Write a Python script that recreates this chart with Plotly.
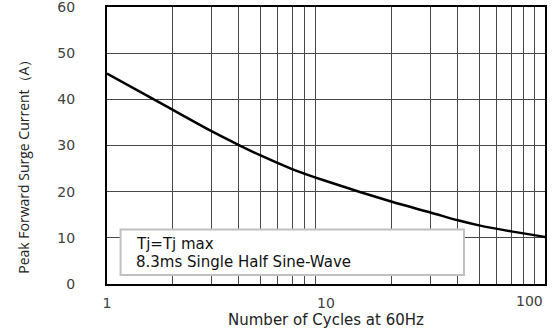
import plotly.graph_objects as go

cycles = [1, 2, 3, 4, 5, 7, 10, 20, 30, 40, 50, 70, 100]
current = [45.6, 37.7, 33.1, 30.1, 27.9, 24.9, 22.3, 17.8, 15.5, 13.8, 12.7, 11.4, 10.2]

x_ticks = [1, 10, 100]
x_labels = ["1", "10", ""]
x_end_label = "100"
x_minor = [2, 3, 4, 5, 6, 7, 8, 9, 20, 30, 40, 50, 60, 70, 80, 90]
y_ticks = [0, 10, 20, 30, 40, 50, 60]

note_lines = ["Tj=Tj max", "8.3ms Single Half Sine-Wave"]
x_title = "Number of Cycles at 60Hz"
y_title = "Peak Forward Surge Current\uff08A\uff09"

fig = go.Figure()
fig.add_trace(go.Scatter(x=cycles, y=current, mode="lines",
                         line=dict(color="black", width=2.5, shape="spline", smoothing=1.0),
                         showlegend=False, hoverinfo="skip"))

tick_font = dict(family="DejaVu Sans", size=14, color="#404040")
grid = "#484848"

fig.update_xaxes(type="log", range=[0, 2], tickvals=x_ticks, ticktext=x_labels,
                 showgrid=False, tickfont=tick_font, ticks="outside", ticklen=5, tickcolor="rgba(0,0,0,0)",
                 minor=dict(tickvals=x_minor, showgrid=True, gridcolor=grid, gridwidth=1, ticks=""),
                 showline=True, linecolor="black", linewidth=2, mirror=True, zeroline=False,
                 automargin=False, ticklabeloverflow="allow",
                 title=dict(text=x_title, font=dict(family="DejaVu Sans", size=15, color="#222222"), standoff=0))
fig.update_yaxes(range=[0, 60], tickvals=y_ticks, showgrid=True, gridcolor=grid, gridwidth=1,
                 tickfont=tick_font, ticks="outside", ticklen=27, tickcolor="rgba(0,0,0,0)",
                 showline=True, linecolor="black", linewidth=2, mirror=True, zeroline=False,
                 automargin=False, ticklabeloverflow="allow")

# y-axis title placed as in the reference (offset below centre)
fig.add_annotation(xref="paper", yref="paper", x=-0.19, y=0.437, xanchor="center", yanchor="middle",
                   text=y_title, textangle=-90, showarrow=False,
                   font=dict(family="Open Sans", size=14, color="#222222"))
# last x tick label sits flush with the right edge
fig.add_annotation(xref="paper", yref="paper", x=1.0, y=-0.061, xanchor="right", yanchor="middle",
                   text=x_end_label, showarrow=False, font=tick_font)

fig.add_shape(type="rect", xref="paper", yref="paper", x0=0.031, x1=0.815, y0=0.0325, y1=0.197,
              fillcolor="white", line=dict(color="#c0c0c0", width=2), layer="above")
fig.add_annotation(xref="paper", yref="paper", x=0.062, y=0.146, xanchor="left", yanchor="middle",
                   text=note_lines[0], showarrow=False, font=dict(family="DejaVu Sans", size=15, color="#111111"))
fig.add_annotation(xref="paper", yref="paper", x=0.062, y=0.081, xanchor="left", yanchor="middle",
                   text=note_lines[1], showarrow=False, font=dict(family="DejaVu Sans", size=15, color="#111111"))

fig.update_layout(width=556, height=330, margin=dict(l=107, r=11, t=7, b=46),
                  paper_bgcolor="white", plot_bgcolor="white")
fig.write_html("out.html", config={"displayModeBar": False},
               post_script="document.body.style.margin='0';document.body.style.overflow='hidden';")
